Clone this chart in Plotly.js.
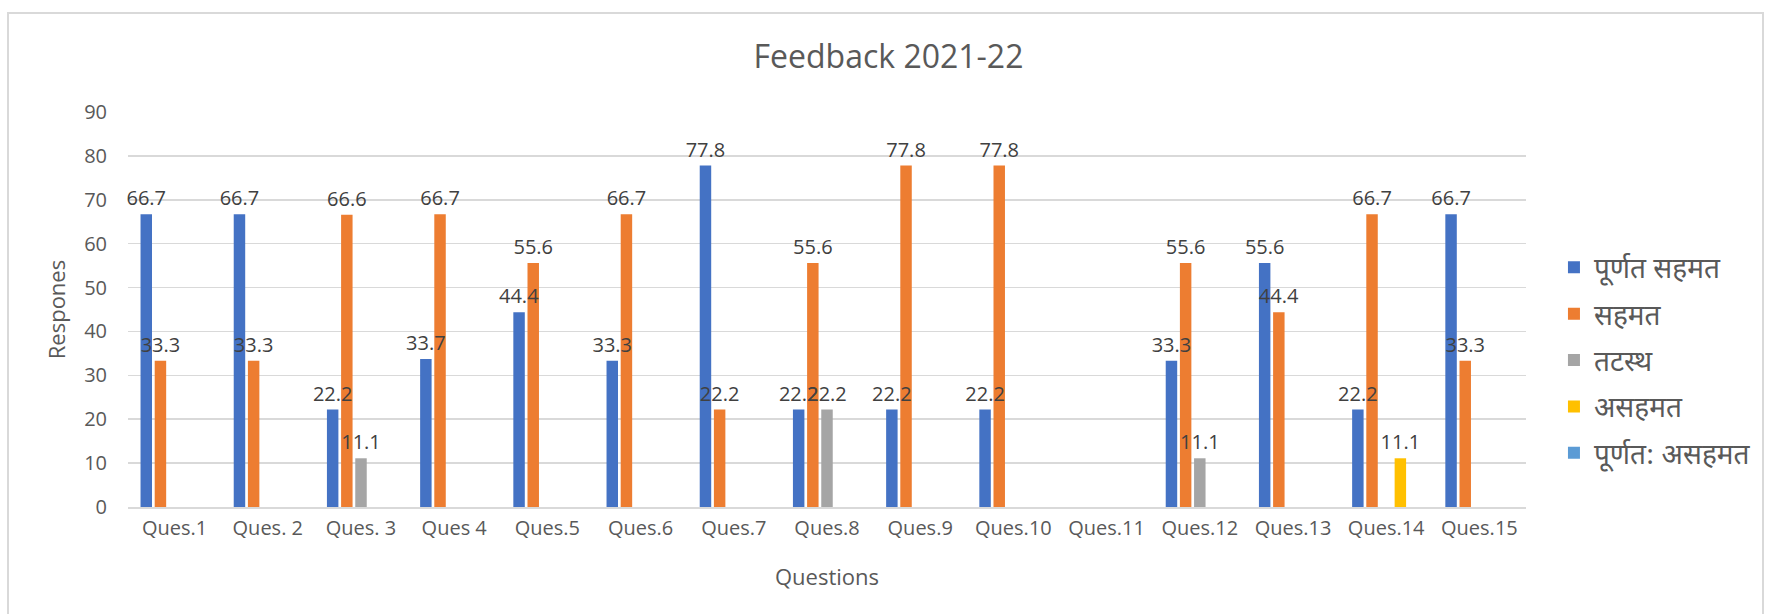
<!DOCTYPE html>
<html>
<head>
<meta charset="utf-8">
<script src="https://cdn.plot.ly/plotly-3.0.1.min.js"></script>
<style>
  html, body { margin: 0; padding: 0; background: #ffffff; }
  #wrap { position: relative; width: 1777px; height: 614px; overflow: hidden; }
  #chart { position: absolute; left: 0; top: 0; width: 1777px; height: 614px; }
  #frame { position: absolute; left: 7px; top: 12px; width: 1757px; height: 640px;
           border: 2px solid #d9d9d9; box-sizing: border-box; pointer-events: none; }
</style>
</head>
<body>
<div id="wrap">
  <div id="chart"></div>
  <div id="frame"></div>
</div>
<script>
// ---- data ----
const categories = ["Ques.1", "Ques. 2", "Ques. 3", "Ques 4", "Ques.5", "Ques.6", "Ques.7", "Ques.8",
                    "Ques.9", "Ques.10", "Ques.11", "Ques.12", "Ques.13", "Ques.14", "Ques.15"];
const seriesNames = ["पूर्णत सहमत", "सहमत", "तटस्थ", "असहमत", "पूर्णत: असहमत"];
const stronglyAgree    = [66.7, 66.7, 22.2, 33.7, 44.4, 33.3, 77.8, 22.2, 22.2, 22.2, null, 33.3, 55.6, 22.2, 66.7];
const agree            = [33.3, 33.3, 66.6, 66.7, 55.6, 66.7, 22.2, 55.6, 77.8, 77.8, null, 55.6, 44.4, 66.7, 33.3];
const neutral          = [null, null, 11.1, null, null, null, null, 22.2, null, null, null, 11.1, null, null, null];
const disagree         = [null, null, null, null, null, null, null, null, null, null, null, null, null, 11.1, null];
const stronglyDisagree = [null, null, null, null, null, null, null, null, null, null, null, null, null, null, null];
const yTickValues = [0, 10, 20, 30, 40, 50, 60, 70, 80, 90];

const seriesValues = [stronglyAgree, agree, neutral, disagree, stronglyDisagree];
const colors = ["#4472C4", "#ED7D31", "#A5A5A5", "#FFC000", "#5B9BD5"];

const latin = '"Open Sans", "Noto Sans", sans-serif';
const deva = '"Noto Sans Devanagari", "Noto Sans", "Open Sans", sans-serif';

const traces = [];
// bars
seriesValues.forEach((vals, i) => {
  traces.push({
    type: "bar",
    name: seriesNames[i],
    x: categories,
    y: vals,
    offsetgroup: String(i),
    legendgroup: String(i),
    marker: { color: colors[i], line: { width: 0 } },
    hoverinfo: "skip"
  });
});
// data labels drawn on top of all bars (same positions via offsetgroup)
seriesValues.forEach((vals, i) => {
  traces.push({
    type: "bar",
    name: seriesNames[i],
    x: categories,
    y: vals,
    offsetgroup: String(i),
    legendgroup: String(i),
    showlegend: false,
    marker: { color: "rgba(0,0,0,0)", line: { width: 0 } },
    text: vals.map(v => (v === null ? "" : v.toFixed(1))),
    textposition: "outside",
    constraintext: "none",
    cliponaxis: false,
    textfont: { family: latin, size: 20, color: "#404040" },
    hoverinfo: "skip"
  });
});

const layout = {
  width: 1777,
  height: 614,
  paper_bgcolor: "#ffffff",
  plot_bgcolor: "#ffffff",
  margin: { l: 128, r: 251, t: 112, b: 107, autoexpand: false },
  barmode: "group",
  bargap: 0.24,
  bargroupgap: 0.19,
  font: { family: latin, color: "#595959", size: 20 },
  title: {
    text: "Feedback 2021-22",
    font: { family: latin, size: 32, color: "#595959" },
    x: 0.5, xref: "container", xanchor: "center",
    y: 1 - 57 / 614, yref: "container", yanchor: "middle"
  },
  xaxis: {
    type: "category",
    showgrid: false,
    showline: true,
    linecolor: "#d9d9d9",
    linewidth: 2,
    ticks: "",
    ticklabelstandoff: 2,
    tickfont: { family: latin, size: 20, color: "#595959" },
    title: { text: "Questions", font: { family: latin, size: 22, color: "#595959" }, standoff: 30 },
    automargin: false
  },
  yaxis: {
    range: [0, 90],
    tickvals: yTickValues,
    showgrid: true,
    gridcolor: "#d9d9d9",
    gridwidth: 1.5,
    zeroline: false,
    showline: false,
    ticks: "",
    ticklabelstandoff: 20,
    tickfont: { family: latin, size: 20, color: "#595959" },
    title: { text: "Respones", font: { family: latin, size: 22, color: "#595959" }, standoff: 12 },
    automargin: false
  },
  showlegend: true,
  legend: {
    x: 1.02, xanchor: "left",
    y: 0.372, yanchor: "middle",
    traceorder: "grouped",
    tracegroupgap: 7,
    font: { family: deva, size: 28, color: "#595959" },
    bgcolor: "rgba(0,0,0,0)"
  }
};

Plotly.newPlot("chart", traces, layout, { staticPlot: true, displayModeBar: false });
</script>
</body>
</html>
